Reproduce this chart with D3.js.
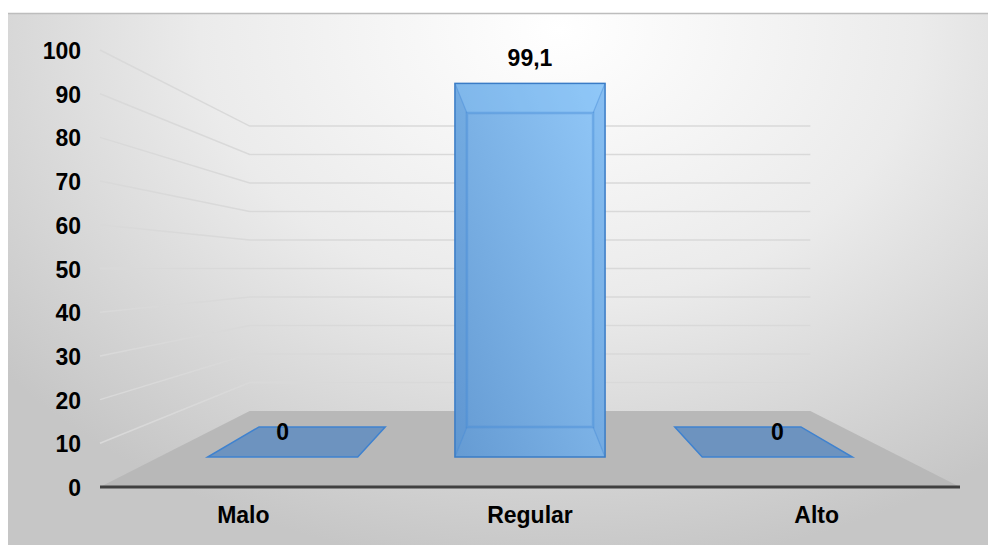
<!DOCTYPE html>
<html>
<head>
<meta charset="utf-8">
<script src="https://cdn.jsdelivr.net/npm/d3@7"></script>
<style>
  html, body { margin: 0; padding: 0; background: #ffffff; }
  svg { display: block; }
  text { font-family: "Liberation Sans", Arial, sans-serif; font-weight: bold; fill: #000; }
</style>
</head>
<body>
<svg id="chart" width="988" height="545"></svg>
<script>
// Chart data
const categories = ["Malo", "Regular", "Alto"];
const values = [0, 99.1, 0];
const valueLabels = ["0", "99,1", "0"];
const yTicks = [0, 10, 20, 30, 40, 50, 60, 70, 80, 90, 100];

const svg = d3.select("#chart");
const W = 988, H = 545;

// Front-plane scales
const x = d3.scaleBand().domain(categories).range([100, 960])
  .paddingInner(0.393).paddingOuter(0.1965);
const y = d3.scaleLinear().domain([0, 100]).range([487, 50]);

// Simple perspective: depth z in [0,1] from front edge of floor to back wall
const vx = (x.range()[0] + x.range()[1]) / 2;
const vy = y(50);
const depthK = 0.534;
function project(px, py, z) {
  const s = 1 / (1 + depthK * z);
  return [vx + (px - vx) * s, vy + (py - vy) * s];
}
const barZ0 = 0.298, barZ1 = 0.71;

const defs = svg.append("defs");
const bg = defs.append("radialGradient").attr("id", "bg")
  .attr("gradientUnits", "userSpaceOnUse")
  .attr("cx", 0).attr("cy", 0).attr("r", 1)
  .attr("gradientTransform", "translate(560,30) scale(720,540)");
bg.append("stop").attr("offset", 0).attr("stop-color", "#ffffff");
bg.append("stop").attr("offset", 0.5).attr("stop-color", "#ebebeb");
bg.append("stop").attr("offset", 1).attr("stop-color", "#c6c6c6");

const barGrad = defs.append("linearGradient").attr("id", "barGrad")
  .attr("x1", 0).attr("y1", 1).attr("x2", 1).attr("y2", 0);
barGrad.append("stop").attr("offset", 0).attr("stop-color", "#659bd3");
barGrad.append("stop").attr("offset", 1).attr("stop-color", "#92c8f8");

// Background panel
svg.append("rect").attr("x", 8).attr("y", 13).attr("width", W - 8).attr("height", H - 13)
  .attr("fill", "url(#bg)");
svg.append("line").attr("x1", 8).attr("x2", W).attr("y1", 13.5).attr("y2", 13.5)
  .attr("stroke", "#bdbdbd").attr("stroke-width", 1.5);

// Gridlines: side wall then back wall
const [x0, x1] = x.range();
const grid = svg.append("g");
yTicks.filter(v => v > 0).forEach(v => {
  const a = [x0, y(v)];
  const b = project(x0, y(v), 1);
  const c = project(x1, y(v), 1);
  grid.append("polyline")
    .attr("points", [a, b, c].map(p => p.join(",")).join(" "))
    .attr("fill", "none").attr("stroke", "#d9d9d9").attr("stroke-width", 1.5);
});

// Floor
const floorPts = [[x0, y(0)], project(x0, y(0), 1), project(x1, y(0), 1), [x1, y(0)]];
svg.append("polygon").attr("points", floorPts.map(p => p.join(",")).join(" "))
  .attr("fill", "#b8b8b8");

// Axis line
svg.append("line").attr("x1", x0).attr("x2", x1).attr("y1", y(0)).attr("y2", y(0))
  .attr("stroke", "#404040").attr("stroke-width", 3);

// Bars as perspective boxes
const bars = svg.append("g");
const pts = a => a.map(p => p.join(",")).join(" ");
categories.forEach((cat, i) => {
  const l = x(cat), r = x(cat) + x.bandwidth();
  const t = y(values[i]), b = y(0);
  const fTL = project(l, t, barZ0), fTR = project(r, t, barZ0),
        fBL = project(l, b, barZ0), fBR = project(r, b, barZ0);
  const kTL = project(l, t, barZ1), kTR = project(r, t, barZ1),
        kBL = project(l, b, barZ1), kBR = project(r, b, barZ1);
  const g = bars.append("g");
  if (values[i] === 0) {
    g.append("polygon").attr("points", pts([fBL, fBR, kBR, kBL]))
      .attr("fill", "rgba(58,122,195,0.6)").attr("stroke", "#3f82cf").attr("stroke-width", 1.5);
    return;
  }
  // bottom face
  g.append("polygon").attr("points", pts([fBL, fBR, kBR, kBL]))
    .attr("fill", "#6aa0d8");
  // front face
  g.append("rect").attr("x", fTL[0]).attr("y", fTL[1])
    .attr("width", fTR[0] - fTL[0]).attr("height", fBL[1] - fTL[1])
    .attr("fill", "url(#barGrad)");
  // side faces, slightly darker
  g.append("polygon").attr("points", pts([fTL, kTL, kBL, fBL])).attr("fill", "rgba(50,120,200,0.1)");
  g.append("polygon").attr("points", pts([fTR, kTR, kBR, fBR])).attr("fill", "rgba(50,120,200,0.1)");
  // top face
  g.append("polygon").attr("points", pts([fTL, fTR, kTR, kTL])).attr("fill", "rgba(140,200,250,0.3)");
  // hidden edges seen through the box
  const edge = "rgba(70,140,215,0.45)";
  g.append("polygon").attr("points", pts([kTL, kTR, kBR, kBL]))
    .attr("fill", "none").attr("stroke", edge).attr("stroke-width", 2.5);
  [[fTL, kTL], [fTR, kTR], [fBL, kBL], [fBR, kBR]].forEach(([p, q]) => {
    g.append("line").attr("x1", p[0]).attr("y1", p[1]).attr("x2", q[0]).attr("y2", q[1])
      .attr("stroke", edge).attr("stroke-width", 1.2);
  });
  // front outline
  g.append("rect").attr("x", fTL[0]).attr("y", fTL[1])
    .attr("width", fTR[0] - fTL[0]).attr("height", fBL[1] - fTL[1])
    .attr("fill", "none").attr("stroke", "#3a7cc6").attr("stroke-width", 1.5);
});

// Value labels
categories.forEach((cat, i) => {
  const cx = x(cat) + x.bandwidth() / 2;
  const p = project(cx, y(values[i]), barZ0);
  svg.append("text").attr("x", p[0]).attr("y", p[1] - 25).attr("dy", "0.35em")
    .attr("text-anchor", "middle").attr("font-size", 23).text(valueLabels[i]);
});

// Y axis labels
svg.append("g").selectAll("text").data(yTicks).join("text")
  .attr("x", 81).attr("y", d => y(d) + 1).attr("dy", "0.35em")
  .attr("text-anchor", "end").attr("font-size", 23).text(d => d);

// Category labels
svg.append("g").selectAll("text").data(categories).join("text")
  .attr("x", d => x(d) + x.bandwidth() / 2).attr("y", 523)
  .attr("text-anchor", "middle").attr("font-size", 23).text(d => d);
</script>
</body>
</html>
